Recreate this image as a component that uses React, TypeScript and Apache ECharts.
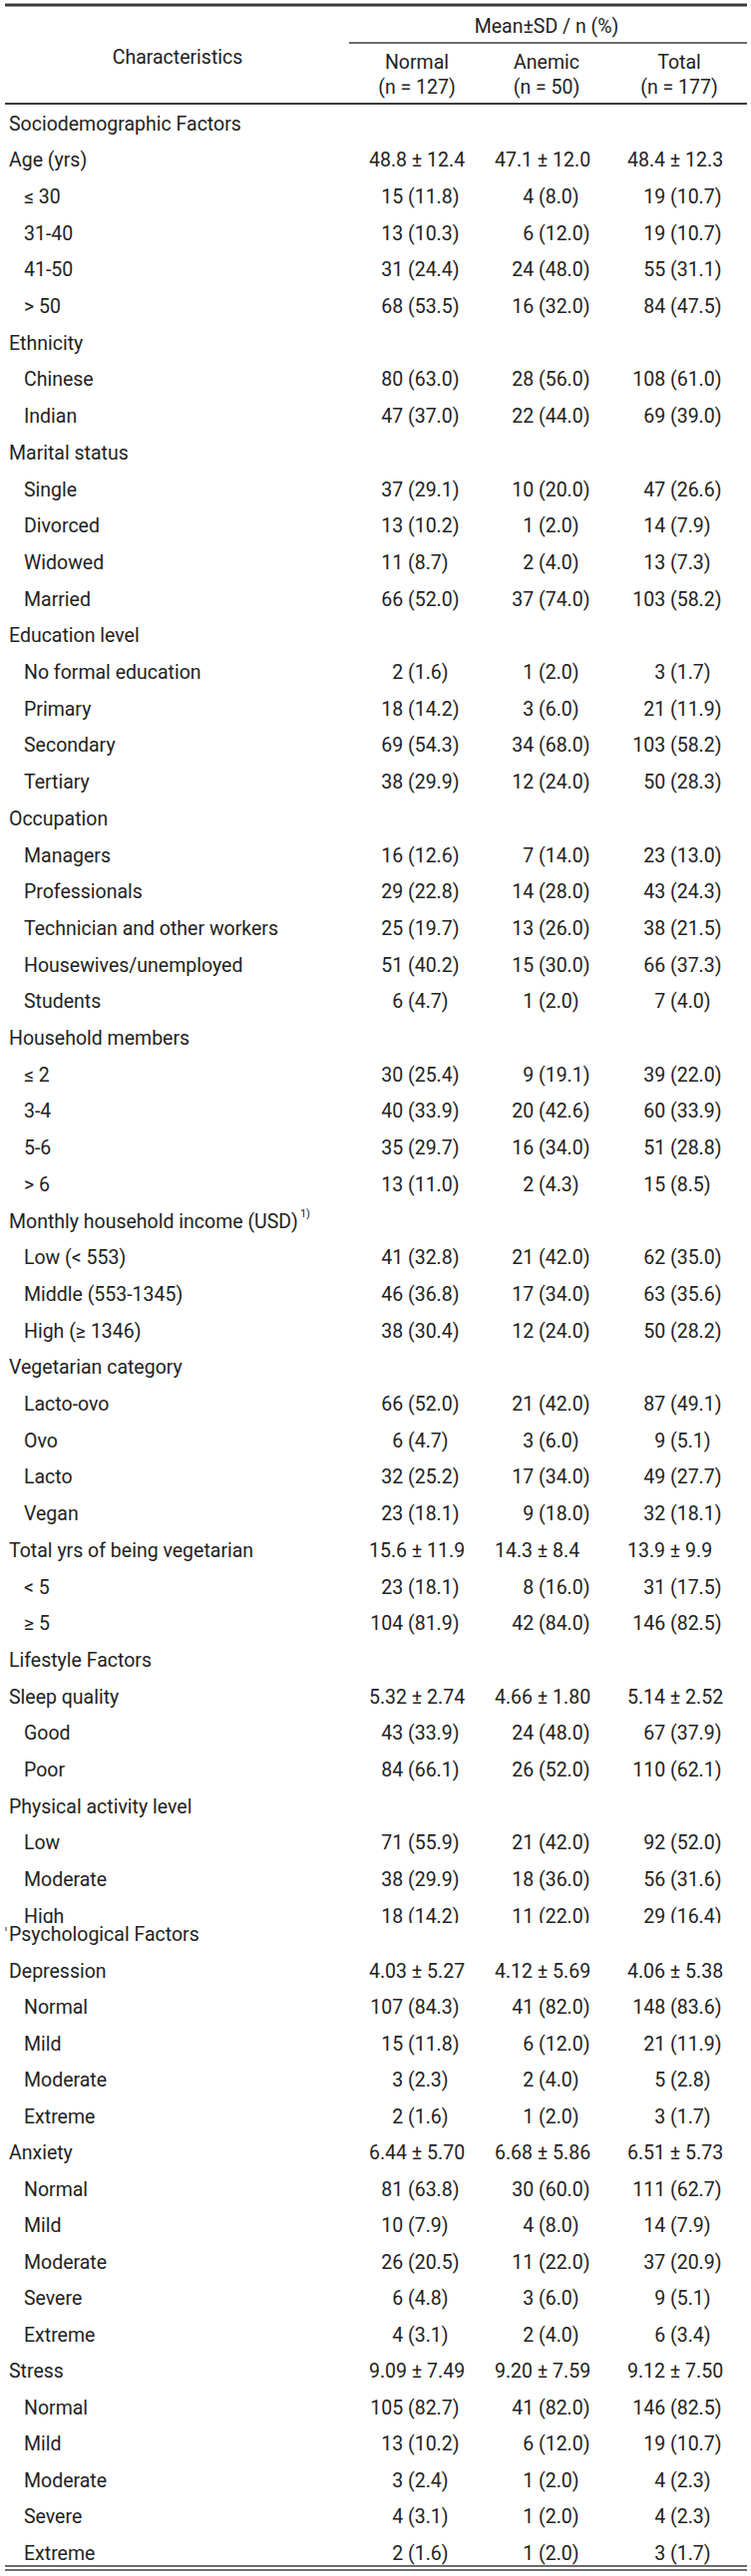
import React, { useEffect, useRef } from "react";
import * as echarts from "echarts";

// ---------- data ----------
const stubHeader = "Characteristics";
const spanHeader = "Mean±SD / n (%)";
const columnHeaders = ["Normal", "Anemic", "Total"];
const columnSizes = ["(n = 127)", "(n = 50)", "(n = 177)"];

const rowLabels = [
  "Sociodemographic Factors", "Age (yrs)", "≤ 30", "31-40", "41-50", "> 50",
  "Ethnicity", "Chinese", "Indian",
  "Marital status", "Single", "Divorced", "Widowed", "Married",
  "Education level", "No formal education", "Primary", "Secondary", "Tertiary",
  "Occupation", "Managers", "Professionals", "Technician and other workers", "Housewives/unemployed", "Students",
  "Household members", "≤ 2", "3-4", "5-6", "> 6",
  "Monthly household income (USD)", "Low (< 553)", "Middle (553-1345)", "High (≥ 1346)",
  "Vegetarian category", "Lacto-ovo", "Ovo", "Lacto", "Vegan",
  "Total yrs of being vegetarian", "< 5", "≥ 5",
  "Lifestyle Factors", "Sleep quality", "Good", "Poor",
  "Physical activity level", "Low", "Moderate", "High",
  "Psychological Factors", "Depression", "Normal", "Mild", "Moderate", "Extreme",
  "Anxiety", "Normal", "Mild", "Moderate", "Severe", "Extreme",
  "Stress", "Normal", "Mild", "Moderate", "Severe", "Extreme",
];

// 0 = heading / variable, 1 = category (indented)
const rowLevels = [
  0, 0, 1, 1, 1, 1,
  0, 1, 1,
  0, 1, 1, 1, 1,
  0, 1, 1, 1, 1,
  0, 1, 1, 1, 1, 1,
  0, 1, 1, 1, 1,
  0, 1, 1, 1,
  0, 1, 1, 1, 1,
  0, 1, 1,
  0, 0, 1, 1,
  0, 1, 1, 1,
  0, 0, 1, 1, 1, 1,
  0, 1, 1, 1, 1, 1,
  0, 1, 1, 1, 1, 1,
];

const footnoteMarks = { 30: "1)" } as Record<number, string>;

const normalValues = [
  "", "48.8 ± 12.4", "15 (11.8)", "13 (10.3)", "31 (24.4)", "68 (53.5)",
  "", "80 (63.0)", "47 (37.0)",
  "", "37 (29.1)", "13 (10.2)", "11 (8.7)", "66 (52.0)",
  "", "2 (1.6)", "18 (14.2)", "69 (54.3)", "38 (29.9)",
  "", "16 (12.6)", "29 (22.8)", "25 (19.7)", "51 (40.2)", "6 (4.7)",
  "", "30 (25.4)", "40 (33.9)", "35 (29.7)", "13 (11.0)",
  "", "41 (32.8)", "46 (36.8)", "38 (30.4)",
  "", "66 (52.0)", "6 (4.7)", "32 (25.2)", "23 (18.1)",
  "15.6 ± 11.9", "23 (18.1)", "104 (81.9)",
  "", "5.32 ± 2.74", "43 (33.9)", "84 (66.1)",
  "", "71 (55.9)", "38 (29.9)", "18 (14.2)",
  "", "4.03 ± 5.27", "107 (84.3)", "15 (11.8)", "3 (2.3)", "2 (1.6)",
  "6.44 ± 5.70", "81 (63.8)", "10 (7.9)", "26 (20.5)", "6 (4.8)", "4 (3.1)",
  "9.09 ± 7.49", "105 (82.7)", "13 (10.2)", "3 (2.4)", "4 (3.1)", "2 (1.6)",
];

const anemicValues = [
  "", "47.1 ± 12.0", "4 (8.0)", "6 (12.0)", "24 (48.0)", "16 (32.0)",
  "", "28 (56.0)", "22 (44.0)",
  "", "10 (20.0)", "1 (2.0)", "2 (4.0)", "37 (74.0)",
  "", "1 (2.0)", "3 (6.0)", "34 (68.0)", "12 (24.0)",
  "", "7 (14.0)", "14 (28.0)", "13 (26.0)", "15 (30.0)", "1 (2.0)",
  "", "9 (19.1)", "20 (42.6)", "16 (34.0)", "2 (4.3)",
  "", "21 (42.0)", "17 (34.0)", "12 (24.0)",
  "", "21 (42.0)", "3 (6.0)", "17 (34.0)", "9 (18.0)",
  "14.3 ± 8.4", "8 (16.0)", "42 (84.0)",
  "", "4.66 ± 1.80", "24 (48.0)", "26 (52.0)",
  "", "21 (42.0)", "18 (36.0)", "11 (22.0)",
  "", "4.12 ± 5.69", "41 (82.0)", "6 (12.0)", "2 (4.0)", "1 (2.0)",
  "6.68 ± 5.86", "30 (60.0)", "4 (8.0)", "11 (22.0)", "3 (6.0)", "2 (4.0)",
  "9.20 ± 7.59", "41 (82.0)", "6 (12.0)", "1 (2.0)", "1 (2.0)", "1 (2.0)",
];

const totalValues = [
  "", "48.4 ± 12.3", "19 (10.7)", "19 (10.7)", "55 (31.1)", "84 (47.5)",
  "", "108 (61.0)", "69 (39.0)",
  "", "47 (26.6)", "14 (7.9)", "13 (7.3)", "103 (58.2)",
  "", "3 (1.7)", "21 (11.9)", "103 (58.2)", "50 (28.3)",
  "", "23 (13.0)", "43 (24.3)", "38 (21.5)", "66 (37.3)", "7 (4.0)",
  "", "39 (22.0)", "60 (33.9)", "51 (28.8)", "15 (8.5)",
  "", "62 (35.0)", "63 (35.6)", "50 (28.2)",
  "", "87 (49.1)", "9 (5.1)", "49 (27.7)", "32 (18.1)",
  "13.9 ± 9.9", "31 (17.5)", "146 (82.5)",
  "", "5.14 ± 2.52", "67 (37.9)", "110 (62.1)",
  "", "92 (52.0)", "56 (31.6)", "29 (16.4)",
  "", "4.06 ± 5.38", "148 (83.6)", "21 (11.9)", "5 (2.8)", "3 (1.7)",
  "6.51 ± 5.73", "111 (62.7)", "14 (7.9)", "37 (20.9)", "9 (5.1)", "6 (3.4)",
  "9.12 ± 7.50", "146 (82.5)", "19 (10.7)", "4 (2.3)", "4 (2.3)", "3 (1.7)",
];

// ---------- layout ----------
const W = 753;
const H = 2584;
const FONT = "Roboto";
const FS = 19.5;
const TEXT = "#222";
const RULE = "#3a3a3a";

const LEFT = 5;
const RIGHT = 749;
const LABEL_X = [9, 24];
const PAREN_X = [409, 540, 672];
const MEAN_X = [370, 496, 629];
const HEAD_CX = [418, 548, 681];

function rowY(i: number): number {
  if (i <= 49) return 124 + 36.7 * i;
  return 1940.5 + 36.5 * (i - 50);
}

let measureCtx: CanvasRenderingContext2D | null = null;
function measure(t: string, size = FS): number {
  if (!measureCtx) measureCtx = document.createElement("canvas").getContext("2d");
  if (!measureCtx) return t.length * size * 0.5;
  measureCtx.font = `${size}px ${FONT}`;
  return measureCtx.measureText(t).width;
}

function txt(text: string, x: number, y: number, align: string, size = FS) {
  return {
    type: "text",
    x,
    y,
    silent: true,
    style: {
      text,
      fill: TEXT,
      fontSize: size,
      fontFamily: FONT,
      textAlign: align,
      textVerticalAlign: "middle",
    },
  };
}

function rule(x1: number, y: number, x2: number, w: number) {
  return {
    type: "line",
    silent: true,
    shape: { x1, y1: y, x2, y2: y },
    style: { stroke: RULE, lineWidth: w },
  };
}

function buildGraphic() {
  const els: any[] = [];
  els.push({ type: "rect", silent: true, shape: { x: 0, y: 0, width: W, height: H }, style: { fill: "#fff" } });

  // header
  els.push(rule(LEFT, 5, RIGHT, 3));
  els.push(txt(spanHeader, 548, 26, "center"));
  els.push(rule(350, 43, RIGHT, 1.4));
  els.push(txt(stubHeader, 178, 57, "center"));
  columnHeaders.forEach((h, c) => {
    els.push(txt(h, HEAD_CX[c], 62, "center"));
    els.push(txt(columnSizes[c], HEAD_CX[c], 87, "center"));
  });
  els.push(rule(LEFT, 104, RIGHT, 1.8));

  const cols = [normalValues, anemicValues, totalValues];
  rowLabels.forEach((label, i) => {
    const y = rowY(i);
    if (i === 50) {
      // page-join artefact: band clipping the row above, plus a stray tick
      els.push({ type: "rect", silent: true, shape: { x: 0, y: 1929, width: W, height: 5 }, style: { fill: "#fff" } });
      els.push({ type: "line", silent: true, shape: { x1: 6, y1: 1933, x2: 6, y2: 1937 }, style: { stroke: "#555", lineWidth: 1.2 } });
    }
    const lx = LABEL_X[rowLevels[i]];
    els.push(txt(label, lx, y, "left"));
    if (footnoteMarks[i]) {
      els.push(txt(footnoteMarks[i], lx + measure(label) + 2, y - 8, "left", 11));
    }
    cols.forEach((vals, c) => {
      const v = vals[i];
      if (!v) return;
      if (v.indexOf("±") >= 0) {
        els.push(txt(v, MEAN_X[c], y, "left"));
      } else {
        const sp = v.indexOf(" ");
        const head = v.slice(0, sp + 1);
        els.push(txt(v, PAREN_X[c] - measure(head), y, "left"));
      }
    });
  });

  // bottom double rule
  els.push(rule(LEFT, 2574, RIGHT, 1.6));
  els.push(rule(LEFT, 2578, RIGHT, 1.6));
  return els;
}

export default function App() {
  const ref = useRef<HTMLDivElement>(null);
  useEffect(() => {
    document.body.style.margin = "0";
    if (!ref.current) return;
    const chart = echarts.init(ref.current, undefined, { renderer: "svg", width: W, height: H });
    chart.setOption({
      animation: false,
      backgroundColor: "#fff",
      graphic: { elements: buildGraphic() },
    });
    return () => chart.dispose();
  }, []);
  return <div ref={ref} style={{ width: W, height: H, background: "#fff" }} />;
}
